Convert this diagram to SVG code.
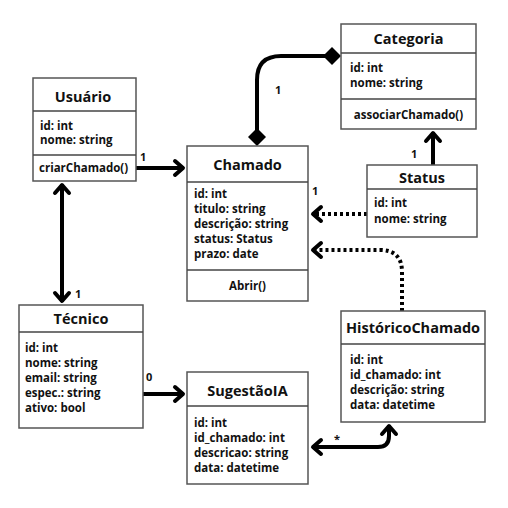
<svg xmlns="http://www.w3.org/2000/svg" width="508" height="508" viewBox="0 0 508 508">
<style>
.box{fill:#fff;stroke:#555;stroke-width:1.5}
.div{stroke:#444;stroke-width:1.5}
text{font-family:"Open Sans","DejaVu Sans",sans-serif;font-weight:bold;fill:#111}
.t{font-size:14.5px;text-anchor:middle}
.a{font-size:11.5px}
.m{font-size:11.5px;text-anchor:middle}
.l{font-size:11px}
.c{fill:none;stroke:#000;stroke-width:4}
.d{fill:none;stroke:#000;stroke-width:4;stroke-dasharray:3 3}
</style>
<defs>
<marker id="ar" viewBox="-12 -10 16 20" markerWidth="16" markerHeight="20" refX="0" refY="0" orient="auto-start-reverse" markerUnits="userSpaceOnUse">
<path d="M-9,-7 L-1,0 L-9,7" fill="none" stroke="#000" stroke-width="4" stroke-linejoin="round" stroke-linecap="round"/>
</marker>
<marker id="dm" viewBox="-10 -10 20 20" markerWidth="20" markerHeight="20" refX="0" refY="0" orient="auto" markerUnits="userSpaceOnUse">
<path d="M-9,0 L0,-9 L9,0 L0,9 Z" fill="#000"/>
</marker>
</defs>
<rect width="508" height="508" fill="#fff"/>
<g id="connectors">
<path class="c" d="M136,168 H184" marker-end="url(#ar)"/>
<path class="c" d="M62,184 V302" marker-start="url(#ar)" marker-end="url(#ar)"/>
<path class="c" d="M257,137 V80 Q257,56 281,56 H332" marker-start="url(#dm)" marker-end="url(#dm)"/>
<path class="c" d="M433,165 V132" marker-end="url(#ar)"/>
<path class="d" d="M367,214 H312" marker-end="url(#ar)"/>
<path class="d" d="M402,311 V272 Q402,250 380,250 H312" marker-end="url(#ar)"/>
<path class="c" d="M143,394 H184" marker-end="url(#ar)"/>
<path class="c" d="M312,447 H378 Q389,447 389,436 V425" marker-start="url(#ar)" marker-end="url(#ar)"/>
<text class="l" x="140" y="161">1</text>
<text class="l" x="75" y="298">1</text>
<text class="l" x="275" y="94">1</text>
<text class="l" x="411" y="158">1</text>
<text class="l" x="312" y="195">1</text>
<text class="l" x="146" y="381">0</text>
<text class="l" x="334" y="443">*</text>
</g>
<g id="usuario">
<rect class="box" x="33" y="78" width="103" height="103"/>
<line class="div" x1="33" y1="111" x2="136" y2="111"/>
<line class="div" x1="33" y1="155" x2="136" y2="155"/>
<text class="t" x="83" y="102">Usuário</text>
<text class="a" x="40" y="130">id: int</text>
<text class="a" x="40" y="144">nome: string</text>
<text class="a" x="39" y="172">criarChamado()</text>
</g>
<g id="chamado">
<rect class="box" x="187" y="146" width="121" height="155"/>
<line class="div" x1="187" y1="182" x2="308" y2="182"/>
<line class="div" x1="187" y1="270" x2="308" y2="270"/>
<text class="t" x="247.5" y="170">Chamado</text>
<text class="a" x="194" y="198">id: int</text>
<text class="a" x="194" y="213">titulo: string</text>
<text class="a" x="194" y="228">descrição: string</text>
<text class="a" x="194" y="243">status: Status</text>
<text class="a" x="194" y="258">prazo: date</text>
<text class="m" x="247.5" y="290">Abrir()</text>
</g>
<g id="categoria">
<rect class="box" x="341" y="24" width="135" height="105"/>
<line class="div" x1="341" y1="53" x2="476" y2="53"/>
<line class="div" x1="341" y1="99" x2="476" y2="99"/>
<text class="t" x="408.5" y="44">Categoria</text>
<text class="a" x="350" y="72">id: int</text>
<text class="a" x="350" y="87">nome: string</text>
<text class="m" x="408.5" y="119">associarChamado()</text>
</g>
<g id="status">
<rect class="box" x="367" y="165" width="110" height="72"/>
<line class="div" x1="367" y1="189" x2="477" y2="189"/>
<text class="t" x="422" y="183">Status</text>
<text class="a" x="374" y="207">id: int</text>
<text class="a" x="374" y="223">nome: string</text>
</g>
<g id="tecnico">
<rect class="box" x="19" y="305" width="124" height="123"/>
<line class="div" x1="19" y1="332" x2="143" y2="332"/>
<text class="t" x="81" y="324">Técnico</text>
<text class="a" x="25" y="352">id: int</text>
<text class="a" x="25" y="367">nome: string</text>
<text class="a" x="25" y="382">email: string</text>
<text class="a" x="25" y="397">espec.: string</text>
<text class="a" x="25" y="412">ativo: bool</text>
</g>
<g id="sugestaoia">
<rect class="box" x="187" y="372" width="121" height="112"/>
<line class="div" x1="187" y1="406" x2="308" y2="406"/>
<text class="t" x="247.5" y="396">SugestãoIA</text>
<text class="a" x="194" y="427">id: int</text>
<text class="a" x="194" y="442">id_chamado: int</text>
<text class="a" x="194" y="457">descricao: string</text>
<text class="a" x="194" y="472">data: datetime</text>
</g>
<g id="historico">
<rect class="box" x="341" y="311" width="144" height="111"/>
<line class="div" x1="341" y1="344" x2="485" y2="344"/>
<text class="t" x="413" y="333">HistóricoChamado</text>
<text class="a" x="350" y="364">id: int</text>
<text class="a" x="350" y="379">id_chamado: int</text>
<text class="a" x="350" y="394">descrição: string</text>
<text class="a" x="350" y="409">data: datetime</text>
</g>
</svg>
